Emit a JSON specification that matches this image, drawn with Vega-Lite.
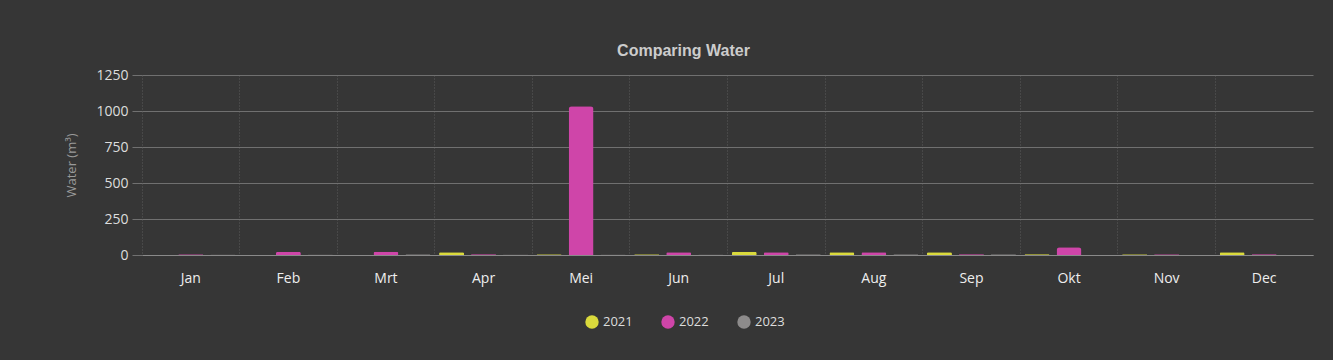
{
  "$schema": "https://vega.github.io/schema/vega-lite/v6.json",
  "width": 1171,
  "height": 180,
  "autosize": {"type": "pad"},
  "padding": {"left": 65, "top": 43, "right": 21, "bottom": 31},
  "background": "#363636",
  "title": {
    "text": "Comparing Water",
    "color": "#cccccc",
    "font": "Liberation Sans",
    "fontSize": 16,
    "fontWeight": "bold",
    "anchor": "middle",
    "frame": "bounds",
    "offset": 9,
    "dx": -6
  },
  "config": {
    "view": {"stroke": null},
    "font": "Open Sans"
  },
  "data": {
    "values": [
      {"month": "Jan", "year": "2022", "water": 5},
      {"month": "Jan", "year": "2023", "water": 4},
      {"month": "Feb", "year": "2022", "water": 20},
      {"month": "Feb", "year": "2023", "water": 4},
      {"month": "Mrt", "year": "2022", "water": 23},
      {"month": "Mrt", "year": "2023", "water": 5},
      {"month": "Apr", "year": "2021", "water": 19},
      {"month": "Apr", "year": "2022", "water": 6},
      {"month": "Apr", "year": "2023", "water": 4},
      {"month": "Mei", "year": "2021", "water": 5},
      {"month": "Mei", "year": "2022", "water": 1033},
      {"month": "Mei", "year": "2023", "water": 4},
      {"month": "Jun", "year": "2021", "water": 5},
      {"month": "Jun", "year": "2022", "water": 19},
      {"month": "Jun", "year": "2023", "water": 4},
      {"month": "Jul", "year": "2021", "water": 23},
      {"month": "Jul", "year": "2022", "water": 19},
      {"month": "Jul", "year": "2023", "water": 5},
      {"month": "Aug", "year": "2021", "water": 19},
      {"month": "Aug", "year": "2022", "water": 19},
      {"month": "Aug", "year": "2023", "water": 5},
      {"month": "Sep", "year": "2021", "water": 19},
      {"month": "Sep", "year": "2022", "water": 6},
      {"month": "Sep", "year": "2023", "water": 5},
      {"month": "Okt", "year": "2021", "water": 6},
      {"month": "Okt", "year": "2022", "water": 54},
      {"month": "Nov", "year": "2021", "water": 5},
      {"month": "Nov", "year": "2022", "water": 5},
      {"month": "Dec", "year": "2021", "water": 19},
      {"month": "Dec", "year": "2022", "water": 6}
    ]
  },
  "mark": {"type": "bar", "cornerRadiusTopLeft": 3, "cornerRadiusTopRight": 3},
  "encoding": {
    "x": {
      "field": "month",
      "type": "nominal",
      "sort": ["Jan", "Feb", "Mrt", "Apr", "Mei", "Jun", "Jul", "Aug", "Sep", "Okt", "Nov", "Dec"],
      "scale": {"paddingInner": 0, "paddingOuter": 0},
      "axis": {
        "title": null,
        "labelAngle": 0,
        "labelColor": "#eeeeee",
        "labelFontSize": 14,
        "labelPadding": 16,
        "ticks": false,
        "domain": true,
        "domainColor": "#8a8a8a",
        "grid": true,
        "gridColor": "#5a5a5a",
        "gridDash": [1, 2],
        "bandPosition": 0
      }
    },
    "xOffset": {
      "field": "year",
      "type": "nominal",
      "scale": {"domain": ["2021", "2022", "2023"], "paddingInner": 0.22, "paddingOuter": 0.135}
    },
    "y": {
      "field": "water",
      "type": "quantitative",
      "scale": {"domain": [0, 1250]},
      "axis": {
        "title": "Water (m³)",
        "titleColor": "#9a9a9a",
        "titleFontSize": 13,
        "titleFontWeight": "normal",
        "titlePadding": 17,
        "values": [0, 250, 500, 750, 1000, 1250],
        "format": "d",
        "labelColor": "#dddddd",
        "labelFontSize": 14,
        "labelPadding": 4,
        "tickSize": 10,
        "tickColor": "#707070",
        "gridColor": "#707070",
        "domain": false
      }
    },
    "color": {
      "field": "year",
      "type": "nominal",
      "scale": {"domain": ["2021", "2022", "2023"], "range": ["#dada3c", "#cf45a9", "#8d8b8b"]},
      "legend": {
        "title": null,
        "orient": "none",
        "legendX": 443,
        "legendY": 240,
        "direction": "horizontal",
        "symbolType": "circle",
        "symbolSize": 180,
        "symbolStrokeWidth": 0,
        "symbolOpacity": 1,
        "labelColor": "#dddddd",
        "labelFontSize": 13,
        "columnPadding": 28
      }
    }
  }
}
